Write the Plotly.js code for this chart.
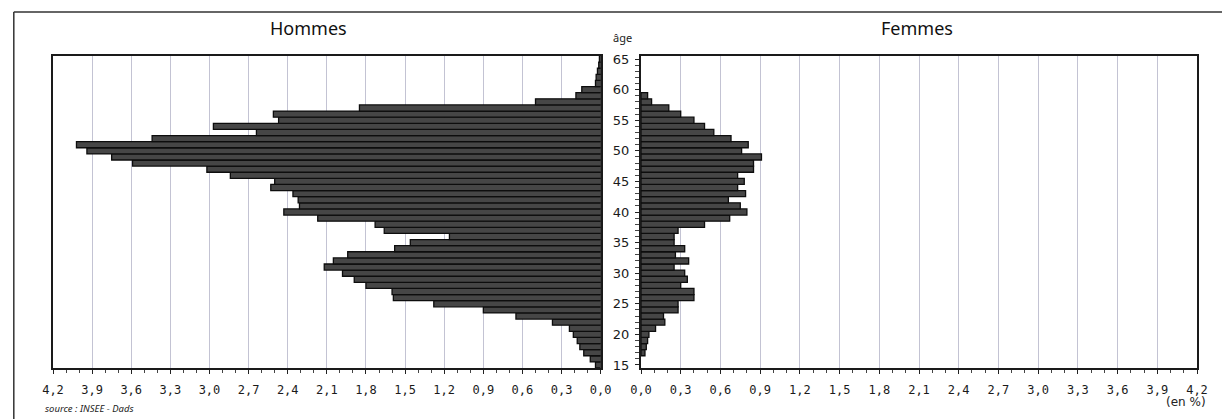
<!DOCTYPE html>
<html>
<head>
<meta charset="utf-8">
<script src="https://cdn.plot.ly/plotly-3.0.1.min.js"></script>
<style>html,body{margin:0;padding:0;background:#fff;}#chart{width:1222px;height:419px;}</style>
</head>
<body>
<div id="chart"></div>
<script>
// Ages (categories), bottom to top
const ages = [15,16,17,18,19,20,21,22,23,24,25,26,27,28,29,30,31,32,33,34,35,36,37,38,39,40,
              41,42,43,44,45,46,47,48,49,50,51,52,53,54,55,56,57,58,59,60,61,62,63,64,65];
// Hommes, % by age (15 .. 65)
const hommes = [0.04,0.08,0.13,0.16,0.18,0.21,0.24,0.37,0.65,0.90,1.28,1.59,1.60,1.80,1.89,1.98,
                2.12,2.05,1.94,1.58,1.46,1.16,1.66,1.73,2.17,2.43,2.31,2.32,2.36,2.53,2.50,2.84,
                3.02,3.59,3.75,3.94,4.02,3.44,2.64,2.97,2.47,2.51,1.85,0.50,0.19,0.145,0.04,0.035,
                0.025,0.015,0.01];
// Femmes, % by age (15 .. 65)
const femmes = [null,null,0.03,0.04,0.05,0.06,0.11,0.18,0.17,0.28,0.28,0.40,0.40,0.30,0.35,0.33,
                0.25,0.36,0.26,0.33,0.25,0.25,0.28,0.48,0.67,0.80,0.75,0.66,0.79,0.73,0.78,0.73,
                0.85,0.85,0.91,0.76,0.81,0.68,0.55,0.48,0.40,0.30,0.21,0.08,0.05,null,null,null,
                null,null,null];
const xTicks = [0,0.3,0.6,0.9,1.2,1.5,1.8,2.1,2.4,2.7,3.0,3.3,3.6,3.9,4.2];
const ageTicks = [15,20,25,30,35,40,45,50,55,60,65];

const barStyle = {color:'#464646', line:{color:'#0d0d0d', width:1.3}};
const traces = [
  {type:'bar', orientation:'h', x:hommes, y:ages, xaxis:'x', yaxis:'y', marker:barStyle, hoverinfo:'x+y'},
  {type:'bar', orientation:'h', x:femmes, y:ages, xaxis:'x2', yaxis:'y2', marker:barStyle, hoverinfo:'x+y'}
];

const W=1222, H=419, L=53, R=25, T=56, B=51;
const pw = W-L-R, ph = H-T-B;
const px = v => (v-L)/pw;
const py = v => (H-B-v)/ph;

const tickFont = {family:'DejaVu Sans Mono, Liberation Mono, monospace', size:12, color:'#1a1a1a'};
const xCommon = {
  tickvals:xTicks, tickformat:'.1f', tickfont:tickFont,
  showgrid:true, gridcolor:'#c3c3d3', gridwidth:1,
  ticks:'outside', ticklen:4, tickcolor:'#222', ticklabelstandoff:6,
  minor:{dtick:0.1, ticks:'outside', ticklen:3, tickcolor:'#444', showgrid:false},
  showline:true, linecolor:'#1a1a1a', linewidth:2, mirror:true,
  zeroline:false, fixedrange:true
};
const layout = {
  width:W, height:H, margin:{l:L, r:R, t:T, b:B},
  paper_bgcolor:'#fff', plot_bgcolor:'#fff',
  separators:', ', showlegend:false, bargap:0,
  font:{family:'DejaVu Sans, sans-serif', color:'#222'},
  xaxis:Object.assign({}, xCommon, {domain:[0, px(600.7)], range:[4.2,0], anchor:'y'}),
  xaxis2:Object.assign({}, xCommon, {domain:[px(641), 1], range:[0,4.2], anchor:'y2'}),
  yaxis:{range:[14.5,65.5], anchor:'x', side:'right', showticklabels:false, showgrid:false,
         zeroline:false, showline:true, linecolor:'#1a1a1a', linewidth:2, mirror:true,
         ticks:'', fixedrange:true},
  yaxis2:{range:[14.5,65.5], anchor:'x2', side:'left', tickvals:ageTicks,
          tickfont:{family:'DejaVu Sans, sans-serif', size:13, color:'#1a1a1a'},
          ticks:'outside', ticklen:4, tickcolor:'#222', ticklabelstandoff:3,
          minor:{dtick:1, ticks:'outside', ticklen:4, tickcolor:'#444', showgrid:false},
          showgrid:false, zeroline:false, showline:true, linecolor:'#1a1a1a', linewidth:2,
          mirror:true, fixedrange:true},
  annotations:[
    {text:'Hommes', xref:'paper', yref:'paper', x:px(308), y:py(28), xanchor:'center', yanchor:'middle',
     showarrow:false, font:{family:'Noto Sans, sans-serif', size:18, color:'#111'}},
    {text:'Femmes', xref:'paper', yref:'paper', x:px(917), y:py(28), xanchor:'center', yanchor:'middle',
     showarrow:false, font:{family:'Noto Sans, sans-serif', size:18, color:'#111'}},
    {text:'âge', xref:'paper', yref:'paper', x:px(622), y:py(37), xanchor:'center', yanchor:'middle',
     showarrow:false, font:{family:'Noto Sans, sans-serif', size:11, color:'#222'}},
    {text:'<i>source : INSEE - Dads</i>', xref:'paper', yref:'paper', x:px(43), y:py(408), xanchor:'left', yanchor:'middle',
     showarrow:false, font:{family:'Noto Sans, sans-serif', size:9.5, color:'#222'}},
    {text:'(en %)', xref:'paper', yref:'paper', x:px(1186), y:py(402), xanchor:'center', yanchor:'middle',
     showarrow:false, font:{family:'DejaVu Sans, sans-serif', size:12, color:'#222'}}
  ],
  shapes:[
    {type:'line', xref:'paper', yref:'paper', x0:px(13.8), x1:px(1240), y0:py(12), y1:py(12),
     line:{color:'#333', width:1.5}},
    {type:'line', xref:'paper', yref:'paper', x0:px(13.8), x1:px(13.8), y0:py(12), y1:py(440),
     line:{color:'#333', width:1.5}}
  ]
};
Plotly.newPlot('chart', traces, layout, {displayModeBar:false, staticPlot:true});
</script>
</body>
</html>
